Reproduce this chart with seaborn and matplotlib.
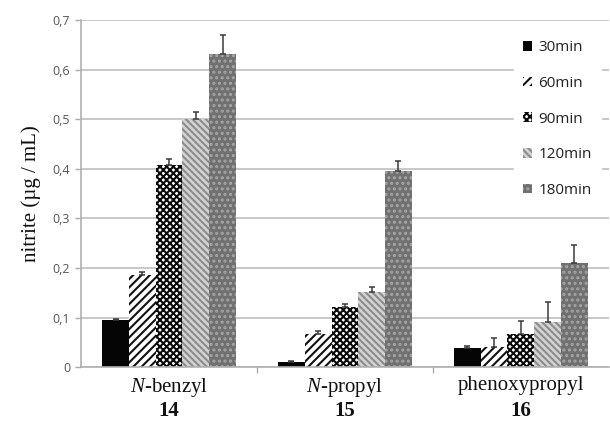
import numpy as np
import pandas as pd
import seaborn as sns
import matplotlib.pyplot as plt
from matplotlib.ticker import FixedLocator

compounds = ['N-benzyl', 'N-propyl', 'phenoxypropyl']
compound_labels = [r'$\mathit{N}$-benzyl', r'$\mathit{N}$-propyl', 'phenoxypropyl']
compound_ids = ['14', '15', '16']
times = ['30min', '60min', '90min', '120min', '180min']

# mean nitrite (ug/mL), rows = times, columns = compounds
means = {
    '30min': [0.095, 0.010, 0.038],
    '60min': [0.185, 0.067, 0.041],
    '90min': [0.408, 0.121, 0.066],
    '120min': [0.500, 0.152, 0.091],
    '180min': [0.631, 0.396, 0.210],
}
# upper error (sd)
errors = {
    '30min': [0.003, 0.003, 0.005],
    '60min': [0.007, 0.005, 0.018],
    '90min': [0.011, 0.007, 0.027],
    '120min': [0.014, 0.009, 0.041],
    '180min': [0.039, 0.019, 0.037],
}

rows = []
for t in times:
    for c, v in zip(compounds, means[t]):
        rows.append({'compound': c, 'time': t, 'nitrite': v})
df = pd.DataFrame(rows)

sns.set_theme(style='white')
plt.rcParams['mathtext.fontset'] = 'custom'
plt.rcParams['mathtext.rm'] = 'Liberation Serif'
plt.rcParams['mathtext.it'] = 'Liberation Serif:italic'
plt.rcParams['mathtext.bf'] = 'Liberation Serif:bold'
plt.rcParams['hatch.linewidth'] = 1.5

fig = plt.figure(figsize=(6.1, 4.25), dpi=100, facecolor='white')
ax = fig.add_axes([0.133, 0.136, 0.865, 0.817])

sns.barplot(data=df, x='compound', y='nitrite', hue='time', order=compounds,
            hue_order=times, errorbar=None, width=0.76, ax=ax, legend=False)

styles = [
    dict(facecolor='#050505', edgecolor='#050505', hatch=None),
    dict(facecolor='white', edgecolor='#111111', hatch='////'),
    dict(facecolor='white', edgecolor='#0a0a0a', hatch='xxxxx'),
    dict(facecolor='#d2d2d2', edgecolor='#8c8c8c', hatch='\\\\\\\\\\'),
    dict(facecolor='#707070', edgecolor='#a4a4a4', hatch='...'),
]

for cont, st, t in zip(ax.containers, styles, times):
    xs = []
    for p in cont:
        p.set_facecolor(st['facecolor'])
        p.set_edgecolor(st['edgecolor'])
        p.set_linewidth(0)
        if st['hatch']:
            p.set_hatch(st['hatch'])
        xs.append(p.get_x() + p.get_width() / 2)
    ax.errorbar(xs, means[t], yerr=[np.zeros(3), errors[t]], fmt='none',
                ecolor='#3a3a3a', elinewidth=1.1, capsize=2.5, capthick=1.1, zorder=3)

ax.set_ylim(0, 0.7)
ax.set_xlim(-0.5, 2.5)
ax.set_yticks(np.arange(0, 0.71, 0.1))
ax.set_yticklabels(['0'] + ['0,%d' % i for i in range(1, 8)],
                   fontsize=9, color='#555555', family='Open Sans')
ax.yaxis.grid(True, color='#c4c4c4', linewidth=1.3)
ax.set_axisbelow(True)
ax.tick_params(axis='y', length=4, width=1, color='#aaaaaa', left=True, pad=4)

ax.set_xticks([0, 1, 2])
ax.set_xticklabels([])
ax.tick_params(axis='x', which='major', length=0)
ax.xaxis.set_minor_locator(FixedLocator([0.5, 1.5]))
ax.tick_params(axis='x', which='minor', length=4, width=1, color='#aaaaaa', bottom=True)

for i in range(3):
    ax.text(i, -0.018, compound_labels[i], ha='center', va='top', fontsize=15,
            family='Liberation Serif', color='#111111', transform=ax.transData)
    ax.text(i, -0.068, compound_ids[i], ha='center', va='top', fontsize=15,
            family='Liberation Serif', fontweight='bold', color='#111111',
            transform=ax.transData)

ax.set_xlabel('')
ax.set_ylabel('nitrite (µg / mL)', fontsize=15, family='Liberation Serif',
              color='#111111', labelpad=8)

for s in ['top', 'right']:
    ax.spines[s].set_visible(False)
for s in ['left', 'bottom']:
    ax.spines[s].set_color('#b0b0b0')
    ax.spines[s].set_linewidth(1.2)

handles = [cont[0] for cont in ax.containers]
leg = ax.legend(handles, times, loc='upper right', bbox_to_anchor=(1.0, 0.99),
                frameon=True, fancybox=False, edgecolor='white', framealpha=1,
                handlelength=0.6, handleheight=0.6, handletextpad=0.4,
                labelspacing=1.35, borderpad=0.6,
                prop={'family': 'Open Sans', 'size': 11})
for txt in leg.get_texts():
    txt.set_color('#222222')

fig.savefig('out.png', dpi=100, facecolor='white')
